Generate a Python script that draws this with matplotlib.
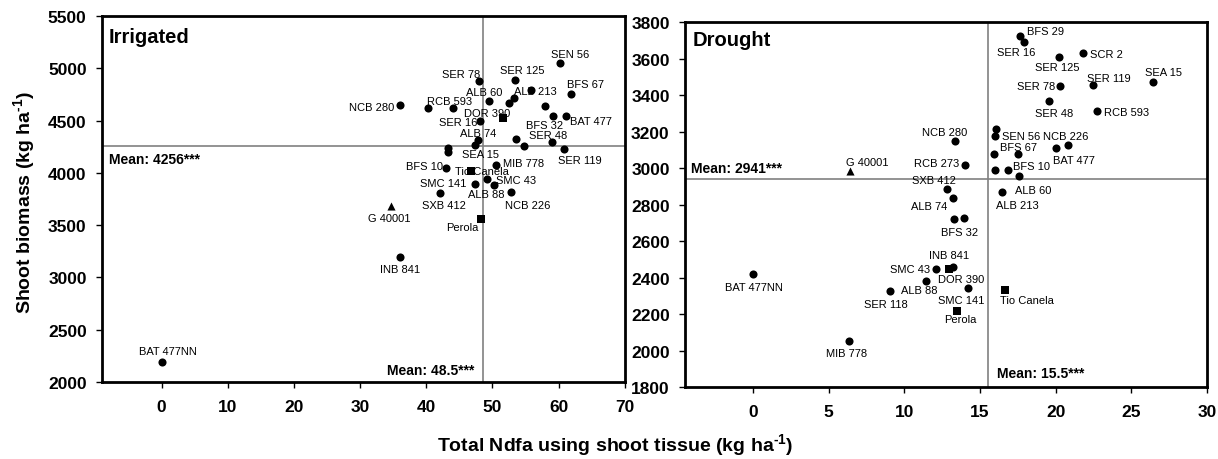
import matplotlib
matplotlib.use("Agg")
import matplotlib.pyplot as plt
import matplotlib.transforms as mtransforms

plt.rcParams['font.family'] = ['Liberation Sans', 'DejaVu Sans']
plt.rcParams['mathtext.fontset'] = 'custom'
plt.rcParams['mathtext.rm'] = 'Liberation Sans:bold'
plt.rcParams['mathtext.bf'] = 'Liberation Sans:bold'

# ---- Irrigated data ----
irr_names = ['SEN 56', 'SER 78', 'SER 125', 'ALB 213', 'BFS 67', 'ALB 60', '', '',
             'RCB 593', '', 'NCB 280', '', 'DOR 390', 'SER 16', 'BFS 32', 'BAT 477',
             'ALB 74', 'SEA 15', '', '', 'SER 48', 'SER 119', '', '',
             'BFS 10', 'MIB 778', 'Tio Canela', 'ALB 88', 'SMC 43', 'SMC 141',
             'NCB 226', 'SXB 412', 'G 40001', 'Perola', 'INB 841', 'BAT 477NN']
irr_ndfa = [60.2, 47.9, 53.4, 55.8, 61.8, 49.5, 53.3, 52.5,
            44.0, 40.2, 36.0, 58.0, 51.6, 48.1, 59.2, 61.1,
            47.8, 47.3, 53.5, 54.8, 59.0, 60.8, 43.3, 43.3,
            43.0, 50.5, 46.7, 49.1, 50.3, 47.4,
            52.8, 42.1, 34.7, 48.3, 36.0, 0.0]
irr_biomass = [5051, 4875, 4888, 4792, 4754, 4684, 4716, 4665,
               4620, 4617, 4646, 4642, 4525, 4493, 4547, 4546,
               4317, 4264, 4324, 4254, 4292, 4228, 4238, 4197,
               4044, 4075, 4015, 3938, 3887, 3893,
               3820, 3810, 3686, 3559, 3195, 2191]
irr_mean_ndfa = 48.5
irr_mean_biomass = 4256

# ---- Drought data ----
dro_names = ['BFS 29', 'SER 16', 'SER 125', 'SCR 2', 'SER 119', 'SEA 15', 'SER 78',
             'SER 48', 'RCB 593', 'NCB 280', '', 'SEN 56', 'NCB 226', 'BAT 477', '',
             'BFS 67', 'RCB 273', 'G 40001', '', 'BFS 10', 'ALB 60', 'ALB 213',
             'SXB 412', 'ALB 74', 'BFS 32', '', 'INB 841', 'DOR 390', 'SMC 43',
             'ALB 88', 'SER 118', 'SMC 141', 'Tio Canela', 'Perola', 'MIB 778', 'BAT 477NN']
dro_ndfa = [17.67, 17.93, 20.22, 21.78, 22.49, 26.41, 20.26,
            19.56, 22.76, 13.37, 16.08, 15.97, 20.79, 20.0, 15.93,
            17.53, 14.03, 6.38, 16.01, 16.85, 17.55, 16.43,
            12.82, 13.19, 13.28, 13.97, 13.22, 12.95, 12.07,
            11.45, 9.03, 14.23, 16.68, 13.48, 6.32, 0.0]
dro_biomass = [3723, 3692, 3608, 3632, 3456, 3469, 3451,
               3367, 3314, 3150, 3212, 3177, 3126, 3111, 3078,
               3077, 3016, 2985, 2991, 2991, 2958, 2870,
               2885, 2837, 2718, 2724, 2458, 2448, 2448,
               2379, 2324, 2342, 2332, 2216, 2050, 2419]
dro_mean_ndfa = 15.5
dro_mean_biomass = 2941

checks = ['Perola', 'Tio Canela', 'DOR 390']
nonnod = ['G 40001']

# label offsets in pixels (dx, dy, ha)
irr_off = {
    'SEN 56': (10, 9, 'center'), 'SER 78': (-17, 7, 'center'), 'SER 125': (7, 10, 'center'),
    'ALB 213': (5, -1, 'center'), 'BFS 67': (15, 10, 'center'), 'ALB 60': (-5, 9, 'center'),
    'RCB 593': (-3, 7, 'center'), 'NCB 280': (-6, -2, 'right'), 'DOR 390': (-16, 5, 'center'),
    'SER 16': (-3, -1, 'right'), 'BFS 32': (-9, -9, 'center'), 'BAT 477': (4, -5, 'left'),
    'ALB 74': (0, 7, 'center'), 'SEA 15': (6, -9, 'center'), 'SER 48': (-4, 7, 'center'),
    'SER 119': (16, -11, 'center'), 'BFS 10': (-3, 2, 'right'), 'MIB 778': (7, 2, 'left'),
    'Tio Canela': (11, 0, 'center'), 'ALB 88': (0, -15, 'center'), 'SMC 43': (2, 5, 'left'),
    'SMC 141': (-9, 1, 'right'), 'NCB 226': (17, -13, 'center'), 'SXB 412': (4, -12, 'center'),
    'G 40001': (-2, -12, 'center'), 'Perola': (-19, -8, 'center'), 'INB 841': (0, -12, 'center'),
    'BAT 477NN': (6, 11, 'center'),
}
dro_off = {
    'BFS 29': (7, 5, 'left'), 'SER 16': (-8, -10, 'center'), 'SER 125': (-2, -10, 'center'),
    'SCR 2': (7, -1, 'left'), 'SER 119': (15, 7, 'center'), 'SEA 15': (11, 10, 'center'),
    'SER 78': (-4, 0, 'right'), 'SER 48': (5, -12, 'center'), 'RCB 593': (7, -1, 'left'),
    'NCB 280': (-11, 9, 'center'), 'SEN 56': (7, 0, 'left'), 'NCB 226': (-2, 9, 'center'),
    'BAT 477': (18, -12, 'center'), 'BFS 67': (0, 7, 'center'), 'RCB 273': (-6, 2, 'right'),
    'G 40001': (18, 9, 'center'), 'BFS 10': (5, 4, 'left'), 'ALB 60': (15, -14, 'center'),
    'ALB 213': (16, -13, 'center'), 'SXB 412': (-13, 9, 'center'), 'ALB 74': (-24, -8, 'center'),
    'BFS 32': (6, -13, 'center'), 'INB 841': (-4, 12, 'center'), 'SMC 43': (-6, 0, 'right'),
    'DOR 390': (12, -10, 'center'), 'ALB 88': (-7, -9, 'center'), 'SER 118': (-4, -13, 'center'),
    'SMC 141': (-7, -12, 'center'), 'Tio Canela': (21, -10, 'center'), 'Perola': (3, -8, 'center'),
    'MIB 778': (-2, -12, 'center'), 'BAT 477NN': (1, -13, 'center'),
}

fig = plt.figure(figsize=(12.18, 4.6), dpi=100)
ax1 = fig.add_axes([0.0837, 0.1674, 0.4293, 0.7956])
ax2 = fig.add_axes([0.5624, 0.1565, 0.4286, 0.7935])


def draw_panel(ax, names, xs, ys, offs, mx, my, xlim, ylim, xticks, yticks):
    ax.axvline(mx, color='#808080', lw=1.2, zorder=1)
    ax.axhline(my, color='#808080', lw=1.2, zorder=1)
    for n, x, y in zip(names, xs, ys):
        m = 's' if n in checks else ('^' if n in nonnod else 'o')
        ax.scatter(x, y, marker=m, s=34, color='black', zorder=3, linewidths=0)
        if n:
            dx, dy, ha = offs[n]
            ax.annotate(n, (x, y), xytext=(dx, dy), textcoords='offset pixels',
                        ha=ha, va='center', fontsize=8, zorder=4)
    ax.set_xlim(*xlim)
    ax.set_ylim(*ylim)
    ax.set_xticks(xticks)
    ax.set_yticks(yticks)
    for s in ax.spines.values():
        s.set_linewidth(2)
    ax.tick_params(direction='out', length=4, width=1, labelsize=12.5)
    ax.tick_params(axis='x', pad=8)
    ax.tick_params(axis='y', pad=7)
    for lab in ax.get_xticklabels() + ax.get_yticklabels():
        lab.set_fontweight('bold')


draw_panel(ax1, irr_names, irr_ndfa, irr_biomass, irr_off, irr_mean_ndfa, irr_mean_biomass,
           (-9, 70), (2000, 5500), range(0, 71, 10), range(2000, 5501, 500))
draw_panel(ax2, dro_names, dro_ndfa, dro_biomass, dro_off, dro_mean_ndfa, dro_mean_biomass,
           (-4.5, 30), (1800, 3800), range(0, 31, 5), range(1800, 3801, 200))

ax1.text(0.013, 0.945, 'Irrigated', transform=ax1.transAxes, fontsize=14.5,
         fontweight='bold', va='center')
ax2.text(0.015, 0.951, 'Drought', transform=ax2.transAxes, fontsize=14.5,
         fontweight='bold', va='center')

for ax, mx, my, hoff, voff in [(ax1, irr_mean_ndfa, irr_mean_biomass, (7, -13), (-8, 12)),
                               (ax2, dro_mean_ndfa, dro_mean_biomass, (6, 11), (9, 14))]:
    tr_h = mtransforms.blended_transform_factory(ax.transAxes, ax.transData)
    tr_v = mtransforms.blended_transform_factory(ax.transData, ax.transAxes)
    ax.annotate('Mean: %g***' % my, (0, my), xycoords=tr_h, xytext=hoff,
                textcoords='offset pixels', fontsize=10, fontweight='bold',
                ha='left', va='center')
    ax.annotate('Mean: %g***' % mx, (mx, 0), xycoords=tr_v, xytext=voff,
                textcoords='offset pixels', fontsize=10, fontweight='bold',
                ha='right' if ax is ax1 else 'left', va='center')

fig.text(0.02, 0.56, r'Shoot biomass (kg ha$^{\text{-}1}$)', rotation=90, fontsize=14,
         fontweight='bold', ha='center', va='center')
fig.text(0.505, 0.03, r'Total Ndfa using shoot tissue (kg ha$^{\text{-}1}$)', fontsize=14,
         fontweight='bold', ha='center', va='center')

fig.savefig('out.png', dpi=100)
